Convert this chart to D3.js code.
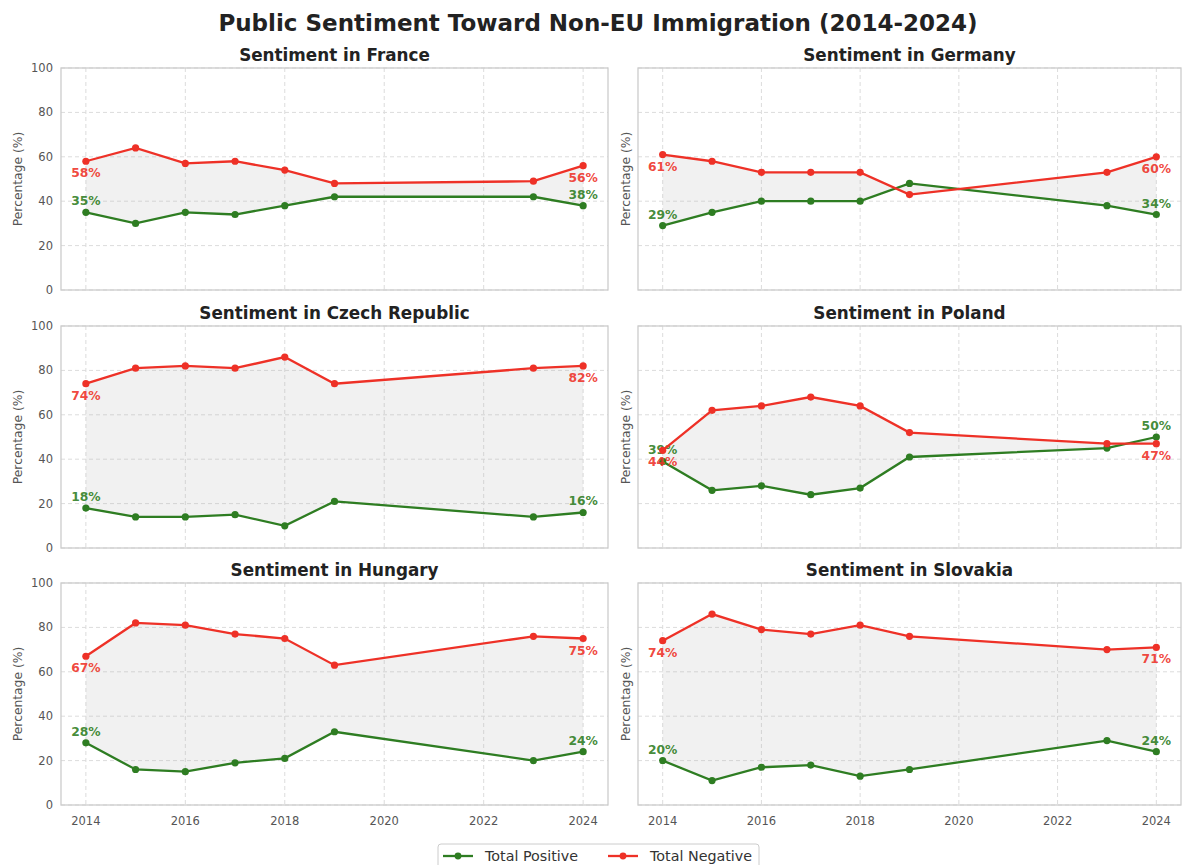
<!DOCTYPE html>
<html>
<head>
<meta charset="utf-8">
<script src="https://cdn.jsdelivr.net/npm/d3@7"></script>
<style>
  body { margin: 0; background: #fff; }
  svg { font-family: "DejaVu Sans", sans-serif; }
</style>
</head>
<body>
<svg id="chart" width="1182" height="865"></svg>
<script>
// survey years (gap between 2019 and 2023)
var years = [2014, 2015, 2016, 2017, 2018, 2019, 2023, 2024];
var countries = ["France", "Germany", "Czech Republic", "Poland", "Hungary", "Slovakia"];

var positiveFrance  = [35, 30, 35, 34, 38, 42, 42, 38];
var negativeFrance  = [58, 64, 57, 58, 54, 48, 49, 56];
var positiveGermany = [29, 35, 40, 40, 40, 48, 38, 34];
var negativeGermany = [61, 58, 53, 53, 53, 43, 53, 60];
var positiveCzech   = [18, 14, 14, 15, 10, 21, 14, 16];
var negativeCzech   = [74, 81, 82, 81, 86, 74, 81, 82];
var positivePoland  = [39, 26, 28, 24, 27, 41, 45, 50];
var negativePoland  = [44, 62, 64, 68, 64, 52, 47, 47];
var positiveHungary = [28, 16, 15, 19, 21, 33, 20, 24];
var negativeHungary = [67, 82, 81, 77, 75, 63, 76, 75];
var positiveSlovakia = [20, 11, 17, 18, 13, 16, 29, 24];
var negativeSlovakia = [74, 86, 79, 77, 81, 76, 70, 71];

var positives = [positiveFrance, positiveGermany, positiveCzech, positivePoland, positiveHungary, positiveSlovakia];
var negatives = [negativeFrance, negativeGermany, negativeCzech, negativePoland, negativeHungary, negativeSlovakia];

var yTicks = [0, 20, 40, 60, 80, 100];
var xTicks = [2014, 2016, 2018, 2020, 2022, 2024];

var green = "#2e7d22";
var red = "#ee3127";

var svg = d3.select("#chart");

svg.append("text")
  .attr("x", 598).attr("y", 31)
  .attr("text-anchor", "middle")
  .attr("font-size", 23).attr("font-weight", "bold")
  .attr("fill", "#222")
  .text("Public Sentiment Toward Non-EU Immigration (2014-2024)");

var colX = [61, 638], colW = [547, 543];
var rowY = [68, 326, 583], panelH = 222;

countries.forEach(function(country, i){
  var col = i % 2, row = Math.floor(i / 2);
  var left = colX[col], top = rowY[row], w = colW[col];

  var x = d3.scaleLinear().domain([2013.5, 2024.5]).range([left, left + w]);
  var y = d3.scaleLinear().domain([0, 100]).range([top + panelH, top]);

  var g = svg.append("g");

  // grid
  g.selectAll(".gx").data(xTicks).enter().append("line")
    .attr("x1", function(d){ return x(d); }).attr("x2", function(d){ return x(d); })
    .attr("y1", top).attr("y2", top + panelH)
    .attr("stroke", "#dcdcdc").attr("stroke-dasharray", "4,3");
  g.selectAll(".gy").data(yTicks).enter().append("line")
    .attr("x1", left).attr("x2", left + w)
    .attr("y1", function(d){ return y(d); }).attr("y2", function(d){ return y(d); })
    .attr("stroke", "#dcdcdc").attr("stroke-dasharray", "4,3");

  // frame
  g.append("rect")
    .attr("x", left).attr("y", top).attr("width", w).attr("height", panelH)
    .attr("fill", "none").attr("stroke", "#cccccc").attr("stroke-width", 1.3);

  // y tick labels only on left column
  if (col === 0) {
    g.selectAll(".yt").data(yTicks).enter().append("text")
      .attr("x", left - 8).attr("y", function(d){ return y(d) + 4; })
      .attr("text-anchor", "end").attr("font-size", 11.5).attr("fill", "#555")
      .text(function(d){ return d; });
  }
  // x tick labels only on bottom row
  if (row === 2) {
    g.selectAll(".xt").data(xTicks).enter().append("text")
      .attr("x", function(d){ return x(d); }).attr("y", top + panelH + 20)
      .attr("text-anchor", "middle").attr("font-size", 11.5).attr("fill", "#555")
      .text(function(d){ return d; });
  }

  var ylx = col === 0 ? 22 : left - 8;
  g.append("text")
    .attr("transform", "translate(" + ylx + "," + (top + panelH / 2) + ") rotate(-90)")
    .attr("text-anchor", "middle").attr("font-size", 12.3).attr("fill", "#555")
    .text("Percentage (%)");

  g.append("text")
    .attr("x", left + w / 2).attr("y", top - 7)
    .attr("text-anchor", "middle").attr("font-size", 16.8).attr("font-weight", "bold")
    .attr("fill", "#222")
    .text("Sentiment in " + country);

  var pos = positives[i], neg = negatives[i];
  var pts = years.map(function(yr, k){ return {year: yr, p: pos[k], n: neg[k]}; });

  var area = d3.area()
    .x(function(d){ return x(d.year); })
    .y0(function(d){ return y(d.p); })
    .y1(function(d){ return y(d.n); });
  g.append("path").datum(pts).attr("d", area)
    .attr("fill", "#b0b0b0").attr("fill-opacity", 0.18);

  [["p", green], ["n", red]].forEach(function(s){
    var key = s[0], color = s[1];
    var line = d3.line()
      .x(function(d){ return x(d.year); })
      .y(function(d){ return y(d[key]); });
    g.append("path").datum(pts).attr("d", line)
      .attr("fill", "none").attr("stroke", color).attr("stroke-width", 2.3);
    g.selectAll(".dot" + key).data(pts).enter().append("circle")
      .attr("cx", function(d){ return x(d.year); })
      .attr("cy", function(d){ return y(d[key]); })
      .attr("r", 3.6).attr("fill", color);
    // value labels at first and last points
    [pts[0], pts[pts.length - 1]].forEach(function(d){
      g.append("text")
        .attr("x", x(d.year))
        .attr("y", key === "p" ? y(d[key]) - 7 : y(d[key]) + 16)
        .attr("text-anchor", "middle").attr("font-size", 12.3).attr("font-weight", "bold")
        .attr("fill", color).attr("fill-opacity", 0.9)
        .text(d[key] + "%");
    });
  });
});

// legend
var lg = svg.append("g");
lg.append("rect").attr("x", 438).attr("y", 844).attr("width", 321).attr("height", 30)
  .attr("rx", 3).attr("fill", "#fff").attr("stroke", "#cccccc");
[["Total Positive", green, 443], ["Total Negative", red, 608]].forEach(function(item){
  lg.append("line").attr("x1", item[2]).attr("x2", item[2] + 30)
    .attr("y1", 856).attr("y2", 856).attr("stroke", item[1]).attr("stroke-width", 2.3);
  lg.append("circle").attr("cx", item[2] + 15).attr("cy", 856).attr("r", 3.4).attr("fill", item[1]);
  lg.append("text").attr("x", item[2] + 42).attr("y", 861)
    .attr("font-size", 14.3).attr("fill", "#333").text(item[0]);
});
</script>
</body>
</html>
